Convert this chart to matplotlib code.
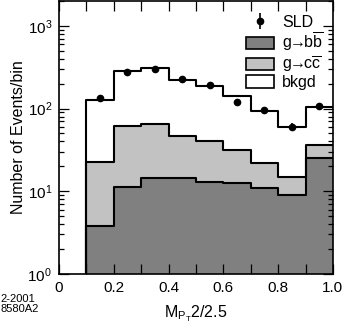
import numpy as np
import matplotlib
matplotlib.use("Agg")
import matplotlib.pyplot as plt
from matplotlib.patches import Patch
from matplotlib.ticker import LogLocator, FixedLocator, FixedFormatter

plt.rcParams['font.family'] = ['Liberation Sans', 'DejaVu Sans']
plt.rcParams['mathtext.fontset'] = 'custom'
plt.rcParams['mathtext.rm'] = 'Liberation Sans'
plt.rcParams['mathtext.it'] = 'Liberation Sans'

# bin edges
edges = [0.1, 0.2, 0.3, 0.4, 0.5, 0.6, 0.7, 0.8, 0.9, 1.0]
# component contributions (events/bin)
bb = [3.8, 11.1, 14.5, 14.5, 13.1, 12.6, 10.8, 9.0, 25.5]
cc = [19.0, 50.6, 51.3, 32.6, 27.9, 19.0, 11.0, 5.8, 10.8]
bkgd = [104, 226, 242, 175, 147, 110, 72, 45.7, 68]
# SLD data
sld_x = [0.15, 0.25, 0.35, 0.45, 0.55, 0.65, 0.75, 0.85, 0.95]
sld_y = [136, 275, 299, 228, 191, 121, 95.5, 60, 107]
sld_err = [10, 15, 16, 14, 13, 10, 9, 7, 10]
xtick_pos = [0, 0.1, 0.2, 0.3, 0.4, 0.5, 0.6, 0.7, 0.8, 0.9, 1.0]
xtick_lab = ['0', '', '0.2', '', '0.4', '', '0.6', '', '0.8', '', '1.0']

bb = np.array(bb); cc = np.array(cc); bkgd = np.array(bkgd)
lev1 = bb
lev2 = bb + cc
lev3 = bb + cc + bkgd

fig = plt.figure(figsize=(3.45, 3.28), dpi=100)
ax = fig.add_axes([0.171, 0.165, 0.794, 0.832])

e = np.array(edges)
def step(vals):
    return np.append(vals, vals[-1])

base = 1.0
ax.fill_between(e, base, step(lev1), step='post', color='#808080', lw=0)
ax.fill_between(e, step(lev1), step(lev2), step='post', color='#c2c2c2', lw=0)
ax.fill_between(e, step(lev2), step(lev3), step='post', color='white', lw=0)
for lev in (lev1, lev2, lev3):
    xs = np.concatenate([[e[0]], e])
    ys = np.concatenate([[base], step(lev)])
    ax.step(xs, ys, where='post', color='black', lw=1.5)

eb = ax.errorbar(sld_x, sld_y, yerr=sld_err, fmt='o', color='black', ms=4.5,
                 elinewidth=1.2, capsize=0, zorder=5)

ax.set_yscale('log')
ax.set_xlim(0, 1.0)
ax.set_ylim(1, 2000)
ax.xaxis.set_major_locator(FixedLocator(xtick_pos))
ax.xaxis.set_major_formatter(FixedFormatter(xtick_lab))
ax.yaxis.set_major_locator(LogLocator(base=10, numticks=10))
ax.yaxis.set_minor_locator(LogLocator(base=10, subs=np.arange(2, 10), numticks=10))
ax.tick_params(which='both', direction='in', top=True, right=True, labelsize=11, width=0.9)
ax.tick_params(which='major', length=7, pad=5)
ax.tick_params(which='minor', length=3.5)
for s in ax.spines.values():
    s.set_linewidth(1.2)

ax.set_ylabel('Number of Events/bin', fontsize=11.5, labelpad=1)
ax.set_xlabel(r'M$_{\mathregular{P_T}}$2/2.5', fontsize=11.5, labelpad=6)

handles = [
    eb,
    Patch(facecolor='#808080', edgecolor='black', lw=1.2),
    Patch(facecolor='#c2c2c2', edgecolor='black', lw=1.2),
    Patch(facecolor='white', edgecolor='black', lw=1.2),
]
labels = ['SLD', r'g$\!\!\rightarrow\!\!$b$\overline{\mathregular{b}}$',
          r'g$\!\!\rightarrow\!\!$c$\overline{\mathregular{c}}$', 'bkgd']
leg = ax.legend(handles, labels, loc='upper right', bbox_to_anchor=(1.0, 0.985), frameon=False,
                fontsize=11.5, handlelength=1.75, handleheight=0.8, labelspacing=0.05,
                handletextpad=0.5, borderaxespad=0.2)

fig.text(0.002, 0.072, '2-2001\n8580A2', fontsize=8, va='center', ha='left', linespacing=1.0)

fig.savefig('out.png', dpi=100)
